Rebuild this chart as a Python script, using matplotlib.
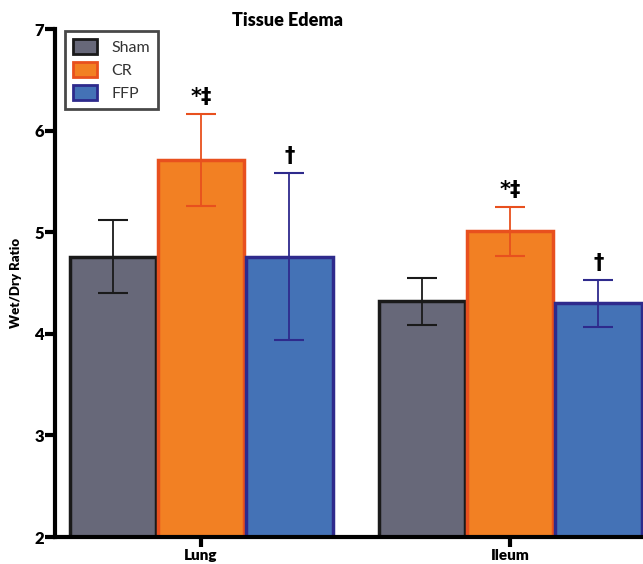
import numpy as np
from matplotlib import pyplot as plt
from matplotlib.patches import Patch

tissues = ['Lung', 'Ileum']
groups = ['Sham', 'CR', 'FFP']
sham = [4.76, 4.32]
sham_err = [0.36, 0.23]
cr = [5.71, 5.01]
cr_err = [0.45, 0.24]
ffp = [4.76, 4.30]
ffp_err = [0.82, 0.23]
marks = [['', '*‡', '†'], ['', '*‡', '†']]

fills = ['#676879', '#f28023', '#4472b6']
edges = ['#1a1a1a', '#e8501e', '#2e2a8c']

plt.rcParams['font.family'] = ['Lato', 'DejaVu Sans']

fig = plt.figure(figsize=(6.43, 5.64), dpi=100)
ax = fig.add_axes([55/643, 27/564, 1 - 55/643, 508/564])

centers = np.array([0.0, 3.47])
w = 0.97
for j, (vals, errs) in enumerate(zip([sham, cr, ffp], [sham_err, cr_err, ffp_err])):
    xs = centers + (j - 1) * 0.99
    ax.bar(xs, np.array(vals) - 2, bottom=2, width=w, color=fills[j],
           edgecolor=edges[j], linewidth=2.5, zorder=2)
    ax.errorbar(xs, vals, yerr=errs, fmt='none', ecolor=edges[j],
                elinewidth=1.3, capsize=11, capthick=1.5, zorder=3)
    for i in range(2):
        m = marks[i][j]
        if m:
            ax.text(xs[i], vals[i] + errs[i] + 0.07, m, ha='center', va='bottom',
                    fontsize=15, fontweight='bold', family=['DejaVu Sans'])

ax.set_xlim(-1.64, 4.96)
ax.set_ylim(2, 7)
ax.set_yticks([2, 3, 4, 5, 6, 7])
ax.set_xticks(centers)
ax.set_xticklabels(tissues)
for s in ['top', 'right']:
    ax.spines[s].set_visible(False)
for s in ['left', 'bottom']:
    ax.spines[s].set_linewidth(3)
ax.tick_params(axis='both', width=3, length=7, labelsize=12)
ax.tick_params(axis='x', pad=1.5, labelsize=11)
ax.tick_params(axis='y', pad=1)
for lab in ax.get_xticklabels() + ax.get_yticklabels():
    lab.set_fontweight('heavy')
ax.set_ylabel('Wet/Dry Ratio', fontsize=9.5, fontweight='heavy', labelpad=9)

handles = [Patch(facecolor=fills[k], edgecolor=edges[k], linewidth=2, label=groups[k])
           for k in range(3)]
leg = ax.legend(handles=handles, loc='upper left', bbox_to_anchor=(0.017, 0.996),
                fontsize=11.5, frameon=True, fancybox=False, handlelength=1.5,
                handleheight=1.1, borderpad=0.5, labelspacing=0.42,
                handletextpad=0.9, borderaxespad=0)
leg.get_frame().set_edgecolor('#1a1a1a')
leg.get_frame().set_linewidth(2)
for t in leg.get_texts():
    t.set_color('#333333')

fig.text(288/643, 1 - 20/564, 'Tissue Edema', ha='center', va='center',
         fontsize=13, fontweight='heavy')

fig.savefig('out.png', dpi=100)
